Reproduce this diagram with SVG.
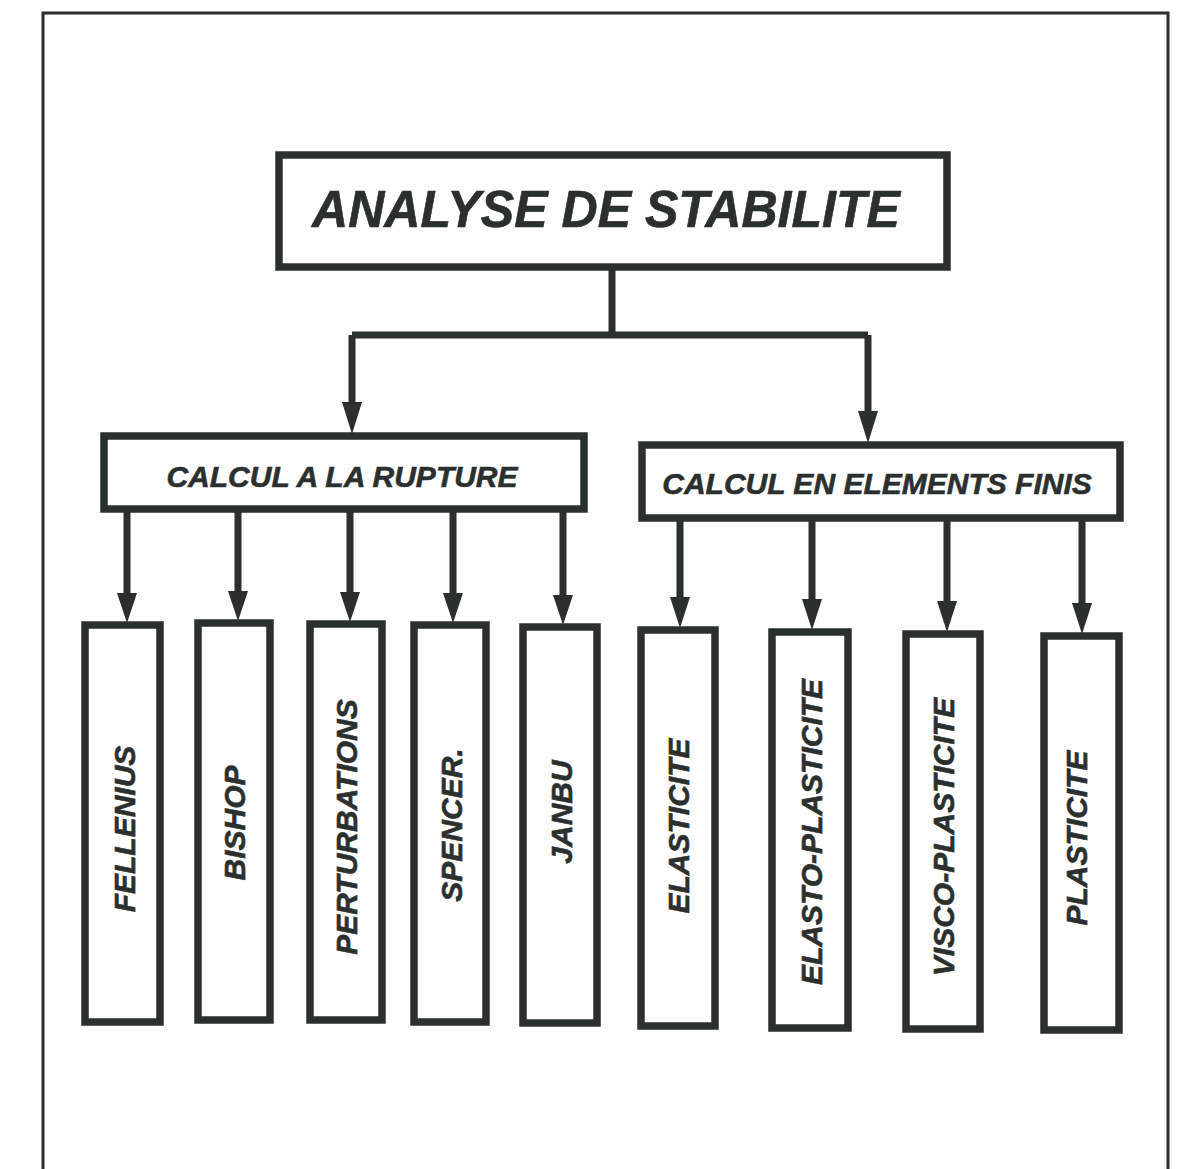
<svg xmlns="http://www.w3.org/2000/svg" width="1192" height="1169" viewBox="0 0 1192 1169">
<defs>
<style>
.bx{fill:#fff;stroke:#2b302f;stroke-width:7.5}
.ln{fill:none;stroke:#2b302f;stroke-width:7}
.ah{fill:#2b302f}
.t{font-family:"Liberation Sans",Arial,sans-serif;font-weight:bold;font-style:italic;fill:#2b302f;stroke:#2b302f;stroke-width:0.6;text-anchor:middle}
</style>
</defs>
<rect width="1192" height="1169" fill="#fff"/>
<path d="M43,1169 V13 H1168 V1169" fill="none" stroke="#2b302f" stroke-width="3"/>
<g id="connectors">
<path class="ln" d="M612,268 V335 M352,335 H868 M352,335 V405 M868,335 V414"/>
<path class="ah" d="M342,402 H362 L352,434 Z"/>
<path class="ah" d="M858,411 H878 L868,443 Z"/>
<path class="ln" d="M127,510 V596 M238,510 V594 M350,510 V595 M453,510 V596 M563,510 V598"/>
<path class="ah" d="M117,593 H137 L127,623 Z"/>
<path class="ah" d="M228,591 H248 L238,621 Z"/>
<path class="ah" d="M340,592 H360 L350,622 Z"/>
<path class="ah" d="M443,593 H463 L453,623 Z"/>
<path class="ah" d="M553,595 H573 L563,625 Z"/>
<path class="ln" d="M680,518 V600 M812,518 V602 M947,518 V604 M1082,518 V606"/>
<path class="ah" d="M670,597 H690 L680,628 Z"/>
<path class="ah" d="M802,599 H822 L812,630 Z"/>
<path class="ah" d="M937,601 H957 L947,632 Z"/>
<path class="ah" d="M1072,603 H1092 L1082,634 Z"/>
</g>
<g id="n-root"><rect class="bx" x="279" y="155" width="668" height="112"/><text class="t" x="606" y="227" font-size="51" textLength="588" lengthAdjust="spacingAndGlyphs">ANALYSE DE STABILITE</text></g>
<g id="n-rupture"><rect class="bx" x="104" y="436" width="480" height="73"/><text class="t" x="342" y="487" font-size="30">CALCUL A LA RUPTURE</text></g>
<g id="n-ef"><rect class="bx" x="642" y="445" width="478" height="73"/><text class="t" x="877" y="494" font-size="30">CALCUL EN ELEMENTS FINIS</text></g>
<g id="n-fellenius"><rect class="bx" x="85" y="625" width="75" height="397"/><text class="t" transform="translate(135,829) rotate(-90)" font-size="30">FELLENIUS</text></g>
<g id="n-bishop"><rect class="bx" x="198" y="623" width="72" height="397"/><text class="t" transform="translate(245,823) rotate(-90)" font-size="30">BISHOP</text></g>
<g id="n-perturbations"><rect class="bx" x="310" y="624" width="72" height="396"/><text class="t" transform="translate(357,827) rotate(-90)" font-size="30">PERTURBATIONS</text></g>
<g id="n-spencer"><rect class="bx" x="414" y="625" width="72" height="397"/><text class="t" transform="translate(462,825) rotate(-90)" font-size="30">SPENCER.</text></g>
<g id="n-janbu"><rect class="bx" x="523" y="627" width="74" height="396"/><text class="t" transform="translate(572,812) rotate(-90)" font-size="30">JANBU</text></g>
<g id="n-elasticite"><rect class="bx" x="641" y="630" width="74" height="396"/><text class="t" transform="translate(689,826) rotate(-90)" font-size="30">ELASTICITE</text></g>
<g id="n-elastoplasticite"><rect class="bx" x="772" y="632" width="76" height="396"/><text class="t" transform="translate(822,832) rotate(-90)" font-size="30">ELASTO-PLASTICITE</text></g>
<g id="n-viscoplasticite"><rect class="bx" x="906" y="634" width="74" height="395"/><text class="t" transform="translate(954,837) rotate(-90)" font-size="30">VISCO-PLASTICITE</text></g>
<g id="n-plasticite"><rect class="bx" x="1044" y="636" width="75" height="394"/><text class="t" transform="translate(1087,838) rotate(-90)" font-size="30">PLASTICITE</text></g>
</svg>
